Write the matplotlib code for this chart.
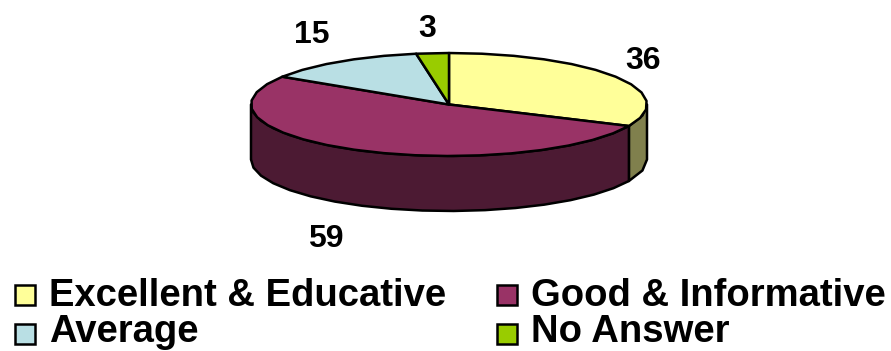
import numpy as np
import matplotlib
matplotlib.use("Agg")
import matplotlib.pyplot as plt
from matplotlib.patches import Rectangle

# Survey responses
categories = ["Excellent & Educative", "Good & Informative", "Average", "No Answer"]
values = [36, 59, 15, 3]
top_colors = ["#FFFF99", "#993366", "#B9DFE4", "#99CC00"]
side_colors = ["#80804D", "#4C1A33", "#5D7072", "#4D6600"]

# Pie geometry in figure pixels
CX, CY, RX, RY, DEPTH = 449, 104.5, 198, 51.5, 55
EDGE = 1.8

plt.rcParams["font.family"] = ["Liberation Sans", "DejaVu Sans"]
fig = plt.figure(figsize=(8.91, 3.51), dpi=100)
ax = fig.add_axes([0, 0, 1, 1])
ax.set_xlim(0, 891)
ax.set_ylim(351, 0)
ax.axis("off")


def rim(a0, a1, step=9):
    """Points along the ellipse, with angles clockwise from twelve o'clock."""
    n = max(2, int(abs(a1 - a0) / step) + 1)
    t = np.radians(np.linspace(a0, a1, n))
    return CX + RX * np.sin(t), CY - RY * np.cos(t)


# Cumulative slice angles
total = sum(values)
bounds = np.concatenate([[0], np.cumsum(values)]) * 360 / total

# Outer wall, only where it faces the viewer (90 to 270 degrees clockwise from the top)
for i in range(len(values)):
    a0, a1 = max(bounds[i], 90), min(bounds[i + 1], 270)
    if a1 <= a0:
        continue
    x, y = rim(a0, a1)
    ax.fill(np.r_[x, x[::-1]], np.r_[y, y[::-1] + DEPTH],
            facecolor=side_colors[i], edgecolor="black", lw=EDGE, joinstyle="round")

# Top faces
for i in range(len(values)):
    x, y = rim(bounds[i], bounds[i + 1])
    ax.fill(np.r_[CX, x], np.r_[CY, y],
            facecolor=top_colors[i], edgecolor="black", lw=EDGE, joinstyle="round")

# Value labels
label_pos = [(643, 61), (312, 35), (427, 29), (326, 239)]
label_values = [values[0], values[2], values[3], values[1]]
for v, (lx, ly) in zip(label_values, label_pos):
    ax.text(lx, ly, str(v), fontsize=23, fontweight="bold", ha="center", va="center")

# Legend laid out in two columns; y is the text baseline
legend_pos = [(15, 306.5), (497, 306.5), (15, 342.5), (497, 342.5)]
box_centers = [295, 295, 334, 334]
for name, color, (lx, base), yc in zip(categories, top_colors, legend_pos, box_centers):
    ax.add_patch(Rectangle((lx, yc - 10.5), 20, 20, facecolor=color, edgecolor="black", lw=1.8))
    ax.text(lx + 34, base, name, fontsize=27.5, fontweight="bold",
            ha="left", va="baseline", color="black")

fig.savefig("out.png", dpi=100)
